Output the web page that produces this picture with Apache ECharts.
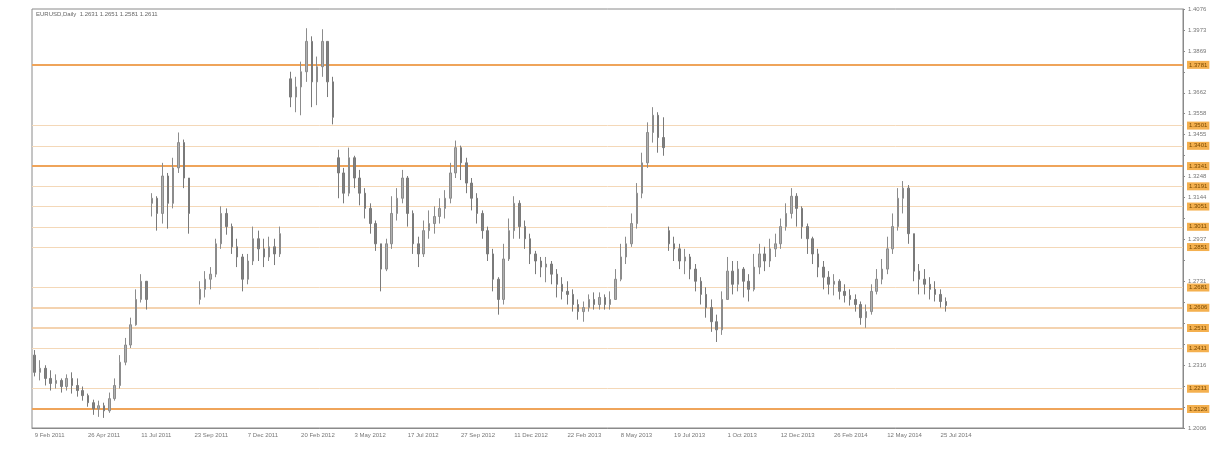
<!DOCTYPE html>
<html><head><meta charset="utf-8">
<script src="https://cdn.jsdelivr.net/npm/echarts@6/dist/echarts.min.js"></script>
<style>html,body{margin:0;padding:0;background:#fff}#c{width:1231px;height:466px}</style>
</head><body><div id="c"></div>
<script>
var titleText = 'EURUSD,Daily  1.2631 1.2651 1.2581 1.2611';
var xLabels = ['9 Feb 2011','26 Apr 2011','11 Jul 2011','23 Sep 2011','7 Dec 2011','20 Feb 2012','3 May 2012','17 Jul 2012','27 Sep 2012','11 Dec 2012','22 Feb 2013','8 May 2013','19 Jul 2013','1 Oct 2013','12 Dec 2013','26 Feb 2014','12 May 2014','25 Jul 2014'];
var slotCount = 216;
var openP = [1.2366,1.2281,1.2301,1.2251,1.2226,1.2241,1.2211,1.2251,1.2216,1.2191,
1.2166,1.2131,1.2101,1.2116,1.2091,1.2151,1.2216,1.2331,1.2416,1.2516,
1.2641,1.2731,1.3116,1.3141,1.3066,1.3251,1.3116,1.3291,1.3416,1.3241,
null,1.2641,1.2691,1.2741,1.2766,1.2916,1.3066,1.3001,1.2901,1.2851,
1.2741,1.2831,1.2941,1.2891,1.2851,1.2901,1.2866,null,1.3731,1.3641,
1.3691,1.3766,1.3916,1.3716,1.3791,1.3916,1.3716,1.3341,1.3266,1.3166,
1.3341,1.3241,1.3166,1.3091,1.3016,1.2916,1.2791,1.2916,1.3066,1.3141,
1.3241,1.3066,1.2916,1.2866,1.2981,1.3016,1.3051,1.3091,1.3141,1.3266,
1.3391,1.3316,1.3216,1.3141,1.3066,1.2981,1.2866,1.2741,1.2641,1.2841,
1.2981,1.3116,1.3001,1.2941,1.2866,1.2831,1.2801,1.2816,1.2766,1.2716,
1.2681,1.2666,1.2616,1.2581,1.2601,1.2641,1.2616,1.2651,1.2616,1.2641,
1.2741,1.2851,1.2916,1.3016,1.3166,1.3316,1.3466,1.3551,1.3441,1.2981,
1.2916,1.2891,1.2831,1.2851,1.2791,1.2731,1.2666,1.2601,1.2531,1.2491,
1.2641,1.2781,1.2716,1.2791,1.2731,1.2691,1.2801,1.2866,1.2831,1.2891,
1.2916,1.3001,1.3066,1.3151,1.3091,1.3001,1.2941,1.2866,1.2801,1.2751,
1.2716,1.2731,1.2681,1.2661,1.2641,1.2616,1.2551,1.2581,1.2681,1.2741,
1.2791,1.2891,1.3001,1.3141,1.3191,1.2966,1.2781,1.2741,1.2716,1.2691,
1.2666,1.2631];
var closeP = [1.2281,1.2301,1.2251,1.2226,1.2241,1.2211,1.2251,1.2216,1.2191,1.2166,
1.2131,1.2101,1.2116,1.2091,1.2151,1.2216,1.2331,1.2416,1.2516,1.2641,
1.2731,1.2641,1.3141,1.3066,1.3251,1.3116,1.3291,1.3416,1.3241,1.3066,
null,1.2691,1.2741,1.2766,1.2916,1.3066,1.3001,1.2901,1.2851,1.2741,
1.2831,1.2941,1.2891,1.2851,1.2901,1.2866,1.2966,null,1.3641,1.3691,
1.3766,1.3916,1.3716,1.3791,1.3916,1.3716,1.3541,1.3266,1.3166,1.3341,
1.3241,1.3166,1.3091,1.3016,1.2916,1.2791,1.2916,1.3066,1.3141,1.3241,
1.3066,1.2916,1.2866,1.2981,1.3016,1.3051,1.3091,1.3141,1.3266,1.3391,
1.3316,1.3216,1.3141,1.3066,1.2981,1.2866,1.2741,1.2641,1.2841,1.2981,
1.3116,1.3001,1.2941,1.2866,1.2831,1.2801,1.2816,1.2766,1.2716,1.2681,
1.2666,1.2616,1.2581,1.2601,1.2641,1.2616,1.2651,1.2616,1.2641,1.2741,
1.2851,1.2916,1.3016,1.3166,1.3316,1.3466,1.3551,1.3441,1.3391,1.2916,
1.2891,1.2831,1.2851,1.2791,1.2731,1.2666,1.2601,1.2531,1.2491,1.2641,
1.2781,1.2716,1.2791,1.2731,1.2691,1.2801,1.2866,1.2831,1.2891,1.2916,
1.3001,1.3066,1.3151,1.3091,1.3001,1.2941,1.2866,1.2801,1.2751,1.2716,
1.2731,1.2681,1.2661,1.2641,1.2616,1.2551,1.2581,1.2681,1.2741,1.2791,
1.2891,1.3001,1.3141,1.3191,1.2966,1.2781,1.2741,1.2716,1.2691,1.2666,
1.2631,1.2611];
var highP = [1.2391,1.2341,1.2316,1.2291,1.2271,1.2251,1.2271,1.2281,1.2251,1.2211,
1.2176,1.2146,1.2141,1.2131,1.2181,1.2251,1.2366,1.2451,1.2551,1.2691,
1.2766,1.2721,1.3166,1.3151,1.3316,1.3266,1.3341,1.3466,1.3431,1.3241,
null,1.2731,1.2781,1.2801,1.2941,1.3101,1.3091,1.3016,1.2941,1.2866,
1.2866,1.3001,1.2981,1.2941,1.2951,1.2941,1.3001,null,1.3766,1.3741,
1.3816,1.3981,1.3941,1.3841,1.3976,1.3916,1.3741,1.3381,1.3291,1.3391,
1.3351,1.3281,1.3191,1.3116,1.3031,1.2916,1.2941,1.3151,1.3191,1.3281,
1.3251,1.3081,1.2951,1.3031,1.3081,1.3101,1.3141,1.3181,1.3316,1.3426,
1.3401,1.3341,1.3241,1.3166,1.3081,1.3001,1.2891,1.2751,1.2916,1.3041,
1.3151,1.3131,1.3031,1.2966,1.2881,1.2851,1.2851,1.2831,1.2791,1.2751,
1.2731,1.2691,1.2641,1.2631,1.2666,1.2676,1.2676,1.2666,1.2681,1.2791,
1.2916,1.2951,1.3066,1.3216,1.3366,1.3516,1.3591,1.3566,1.3541,1.3001,
1.2951,1.2916,1.2891,1.2866,1.2816,1.2751,1.2701,1.2641,1.2566,1.2681,
1.2851,1.2831,1.2831,1.2801,1.2766,1.2866,1.2916,1.2901,1.2941,1.2966,
1.3041,1.3116,1.3191,1.3166,1.3101,1.3016,1.2951,1.2891,1.2831,1.2781,
1.2766,1.2741,1.2716,1.2691,1.2666,1.2631,1.2616,1.2716,1.2791,1.2841,
1.2951,1.3066,1.3191,1.3226,1.3206,1.2966,1.2816,1.2791,1.2751,1.2731,
1.2691,1.2651];
var lowP = [1.2261,1.2241,1.2216,1.2191,1.2201,1.2181,1.2191,1.2176,1.2161,1.2141,
1.2111,1.2071,1.2061,1.2056,1.2081,1.2141,1.2201,1.2316,1.2401,1.2511,
1.2626,1.2591,1.3051,1.2981,1.3016,1.2991,1.3091,1.3266,1.3191,1.2966,
null,1.2616,1.2651,1.2691,1.2751,1.2891,1.2961,1.2866,1.2801,1.2681,
1.2716,1.2811,1.2831,1.2801,1.2831,1.2811,1.2851,null,1.3591,1.3566,
1.3551,1.3716,1.3591,1.3601,1.3741,1.3641,1.3506,1.3141,1.3116,1.3151,
1.3191,1.3106,1.3041,1.2966,1.2881,1.2681,1.2781,1.2891,1.3031,1.3116,
1.3001,1.2866,1.2801,1.2851,1.2941,1.2966,1.3016,1.3041,1.3116,1.3241,
1.3231,1.3166,1.3081,1.3016,1.2941,1.2831,1.2681,1.2566,1.2616,1.2831,
1.2941,1.2941,1.2891,1.2816,1.2766,1.2751,1.2726,1.2716,1.2651,1.2641,
1.2616,1.2581,1.2541,1.2531,1.2581,1.2591,1.2591,1.2591,1.2591,1.2641,
1.2731,1.2816,1.2901,1.2991,1.3141,1.3291,1.3416,1.3366,1.3351,1.2881,
1.2831,1.2791,1.2766,1.2741,1.2681,1.2616,1.2551,1.2481,1.2431,1.2466,
1.2641,1.2666,1.2681,1.2651,1.2631,1.2681,1.2766,1.2781,1.2801,1.2851,
1.2891,1.2981,1.3041,1.3001,1.2941,1.2866,1.2816,1.2751,1.2691,1.2666,
1.2661,1.2641,1.2626,1.2611,1.2581,1.2516,1.2501,1.2566,1.2666,1.2716,
1.2766,1.2866,1.2981,1.3066,1.2916,1.2731,1.2666,1.2666,1.2641,1.2631,
1.2601,1.2581];
var majorLevels = [1.3781, 1.3341, 1.2126];
var mediumLevels = [1.2511, 1.2606];
var minorLevels = [1.3501, 1.3401, 1.3191, 1.3051, 1.3011, 1.2851, 1.2681, 1.2411, 1.2211];
var yMin = 1.2006, yInterval = 0.01035, yMax = 1.4076;

var cats = [];
for (var i = 0; i < slotCount; i++) cats.push(String(i));
var candles = [];
for (var i = 0; i < openP.length; i++) {
  if (openP[i] === null) candles.push('-');
  else candles.push([openP[i], closeP[i], lowP[i], highP[i]]);
}
var allLevels = majorLevels.concat(mediumLevels, minorLevels);
function lvl(v, color, width) {
  return {
    yAxis: v,
    lineStyle: { color: color, width: width, type: 'solid', opacity: 1 },
    label: { show: true, position: 'end', distance: 4, formatter: v.toFixed(4),
      fontSize: 6, fontFamily: 'Liberation Sans', color: '#7a4a00',
      backgroundColor: '#f4b04f', padding: [1, 2, 1, 2] }
  };
}
var mlData = [];
majorLevels.forEach(function (v) { mlData.push(lvl(v, '#efa45a', 2)); });
mediumLevels.forEach(function (v) { mlData.push(lvl(v, '#f0c496', 1.5)); });
minorLevels.forEach(function (v) { mlData.push(lvl(v, '#f4d8b8', 1)); });

var chart = echarts.init(document.getElementById('c'), null, { renderer: 'canvas' });
chart.setOption({
  animation: false,
  backgroundColor: '#ffffff',
  graphic: [{ type: 'text', left: 36, top: 11,
    style: { text: titleText, fontSize: 6, fontFamily: 'Liberation Sans', fill: '#666' } }],
  grid: { left: 32, right: 48, top: 9, bottom: 38, show: true, borderColor: '#8a8a8a', borderWidth: 1, backgroundColor: '#ffffff' },
  xAxis: {
    type: 'category', data: cats, boundaryGap: true,
    axisLine: { show: true, lineStyle: { color: '#8a8a8a' } },
    axisTick: { show: false },
    splitLine: { show: false },
    axisLabel: { interval: 9, align: 'left', margin: 4, fontSize: 6, fontFamily: 'Liberation Sans', color: '#777',
      formatter: function (v, idx) { return xLabels[Math.round(idx / 10)] || ''; } }
  },
  yAxis: {
    type: 'value', position: 'right', min: yMin, max: yMax, interval: yInterval, scale: true,
    axisLine: { show: true, lineStyle: { color: '#8a8a8a' } },
    axisTick: { show: true, length: 2, lineStyle: { color: '#8a8a8a' } },
    splitLine: { show: false },
    axisLabel: { margin: 5, fontSize: 6, fontFamily: 'Liberation Sans', color: '#777', showMinLabel: true, showMaxLabel: true,
      formatter: function (v) {
        for (var k = 0; k < allLevels.length; k++) if (Math.abs(allLevels[k] - v) < 0.003) return '';
        return v.toFixed(4);
      } }
  },
  series: [{
    type: 'candlestick', data: candles, barWidth: 2,
    itemStyle: { color: '#b0b0b0', color0: '#808080', borderColor: '#8c8c8c', borderColor0: '#7a7a7a', borderWidth: 1 },
    markLine: { silent: true, symbol: ['none', 'none'], animation: false, data: mlData, z: 1 }
  }]
});
</script></body></html>
